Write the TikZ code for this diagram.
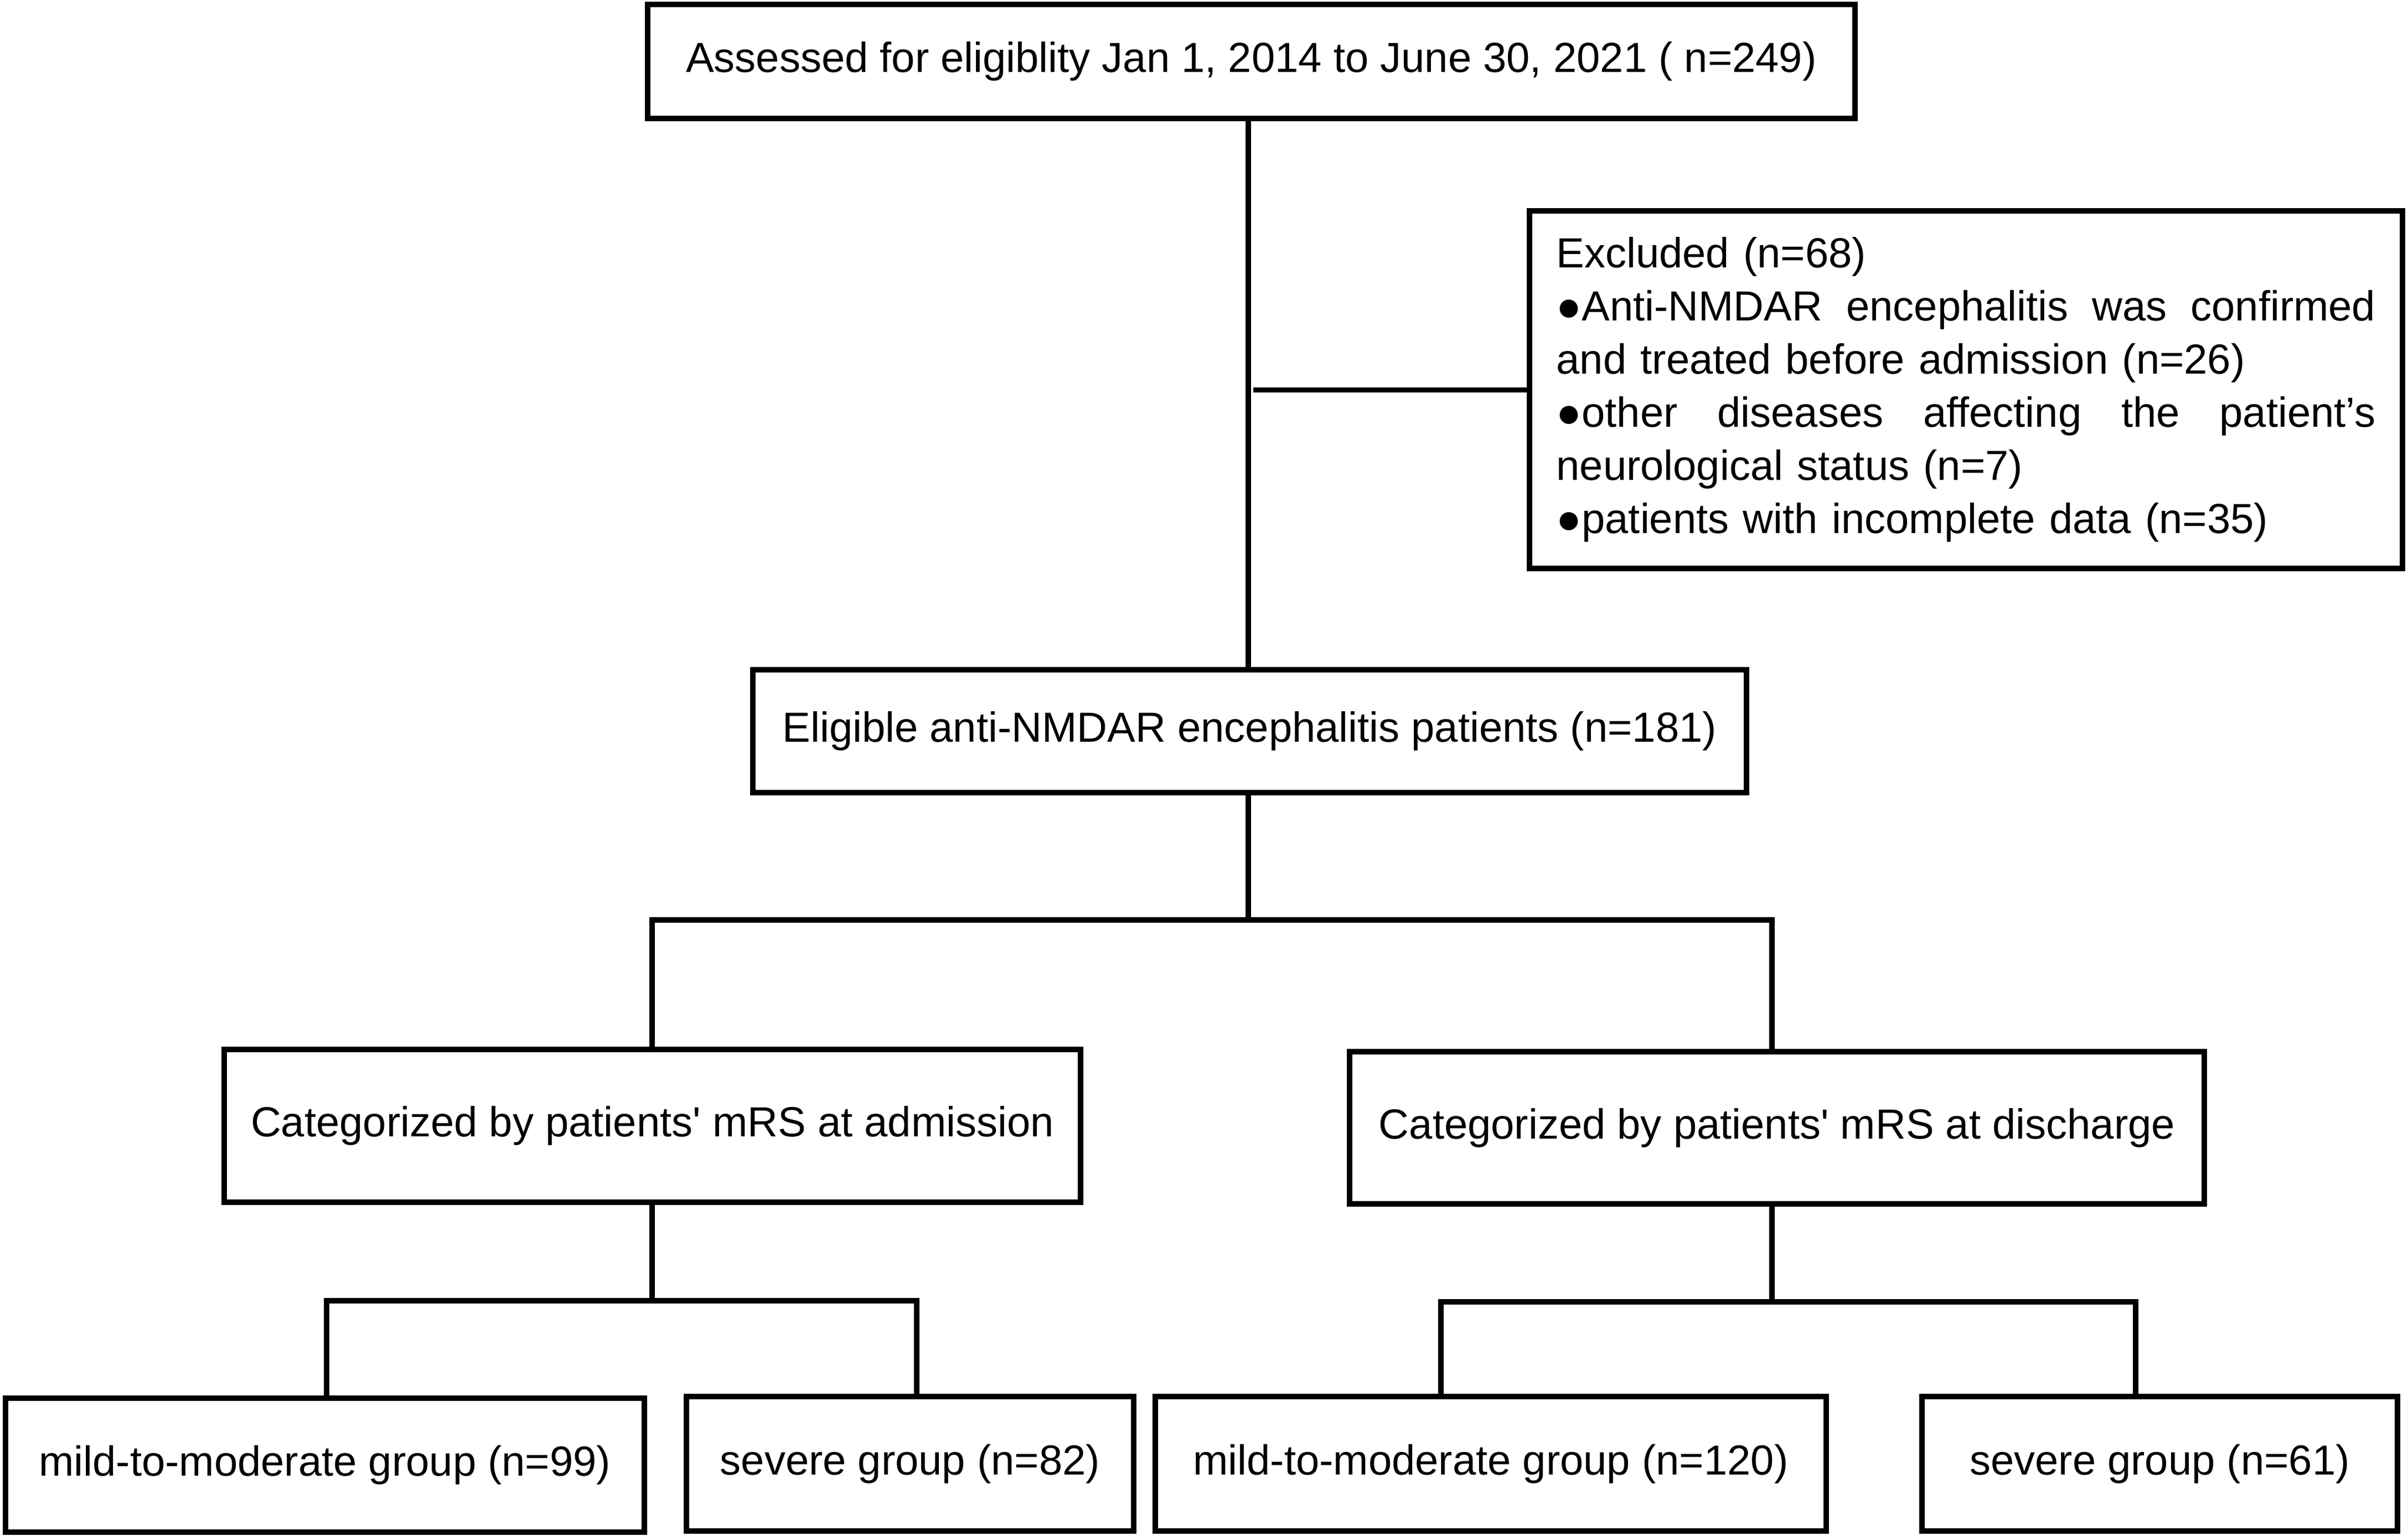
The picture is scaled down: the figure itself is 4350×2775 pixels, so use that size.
\documentclass[tikz,border=0pt]{standalone}
\usepackage{fontspec}
\setmainfont{Liberation Sans}[Ligatures=TeXOff]
\setlength\parindent{0pt}
\begin{document}
\begin{tikzpicture}[x=0.25pt,y=-0.25pt,
  box/.style={draw=black,line width=2.3pt,rectangle,inner sep=0pt,align=center,
              font=\fontsize{19pt}{24pt}\selectfont},
  conn/.style={draw=black,line width=2.3pt}]
\useasboundingbox (0,0) rectangle (4350,2775);
% boxes
\node[box,minimum width=545.25pt,minimum height=51.5pt] (top) at (2260.5,111)
  {Assessed for eligiblity Jan 1, 2014 to June 30, 2021 ( n=249)};
\node[box,minimum width=394.25pt,minimum height=161.5pt,text width=370pt,align=left] (excl) at (3551.5,704)
  {Excluded (n=68)\\
   \makebox[370pt][l]{●Anti-NMDAR\hfill encephalitis\hfill was\hfill confirmed}\\
   and treated before admission (n=26)\\
   \makebox[370pt][l]{●other\hfill diseases\hfill affecting\hfill the\hfill patient’s}\\
   neurological status (n=7)\\
   ●patients with incomplete data (n=35)};
\node[box,minimum width=448.75pt,minimum height=55.5pt] (elig) at (2257.5,1321)
  {Eligible anti-NMDAR encephalitis patients (n=181)};
\node[box,minimum width=386.75pt,minimum height=69pt] (catL) at (1178.5,2034)
  {Categorized by patients' mRS at admission};
\node[box,minimum width=386pt,minimum height=68.75pt] (catR) at (3210,2037.5)
  {Categorized by patients' mRS at discharge};
\node[box,minimum width=288.5pt,minimum height=60.5pt] (b1) at (587,2647)
  {mild-to-moderate group (n=99)};
\node[box,minimum width=202pt,minimum height=60.75pt] (b2) at (1644,2644.5)
  {severe group (n=82)};
\node[box,minimum width=303pt,minimum height=60.75pt] (b3) at (2693,2644.5)
  {mild-to-moderate group (n=120)};
\node[box,minimum width=214.75pt,minimum height=60.75pt] (b4) at (3901.5,2644.5)
  {severe group (n=61)};
% junction coordinates
\coordinate (jc) at (2255,1662);
\coordinate (jL) at (1178,1662);
\coordinate (jR) at (3201,1662);
\coordinate (eb) at (2264,704.5);
\coordinate (kL) at (1178,2350);
\coordinate (kL1) at (590,2350);
\coordinate (kL2) at (1656,2350);
\coordinate (kR) at (3201,2352);
\coordinate (kR1) at (2603,2352);
\coordinate (kR2) at (3858,2352);
% connectors
\draw[conn] (top.south -| jc) -- (elig.north -| jc);
\draw[conn] (eb) -- (excl.west |- eb);
\draw[conn] (elig.south -| jc) -- (jc);
\draw[conn] (catL.north -| jL) -- (jL) -- (jR) -- (catR.north -| jR);
\draw[conn] (catL.south -| kL) -- (kL);
\draw[conn] (b1.north -| kL1) -- (kL1) -- (kL2) -- (b2.north -| kL2);
\draw[conn] (catR.south -| kR) -- (kR);
\draw[conn] (b3.north -| kR1) -- (kR1) -- (kR2) -- (b4.north -| kR2);
\end{tikzpicture}
\end{document}
